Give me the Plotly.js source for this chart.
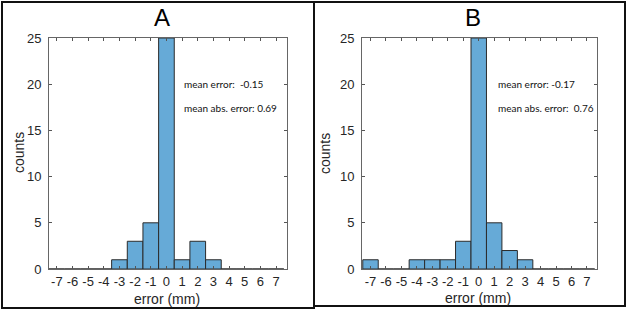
<!DOCTYPE html>
<html>
<head>
<meta charset="utf-8">
<script src="https://cdn.plot.ly/plotly-3.0.1.min.js"></script>
<style>html,body{margin:0;padding:0;background:#fff;}#chart{width:629px;height:311px;}</style>
</head>
<body>
<div id="chart"></div>
<script>
// bin centres (mm)
var binCenters = [-7, -6, -5, -4, -3, -2, -1, 0, 1, 2, 3, 4, 5, 6, 7];
// counts per bin, panel A
var countsA = [0, 0, 0, 0, 1, 3, 5, 25, 1, 3, 1, 0, 0, 0, 0];
// counts per bin, panel B
var countsB = [1, 0, 0, 1, 1, 1, 3, 25, 5, 2, 1, 0, 0, 0, 0];
var panelTitles = ["A", "B"];
var statsA = ["mean error:\u00a0\u00a0-0.15", "mean abs. error: 0.69"];
var statsB = ["mean error: -0.17", "mean abs. error:\u00a0\u00a00.76"];
var xTicks = [-7, -6, -5, -4, -3, -2, -1, 0, 1, 2, 3, 4, 5, 6, 7];
var yTicks = [0, 5, 10, 15, 20, 25];

var barColor = "rgb(102,170,215)";
function barTrace(y, xa, ya) {
  return {
    type: "bar", x: binCenters, y: y, xaxis: xa, yaxis: ya, width: 1,
    marker: {color: barColor, line: {color: "#2b2b2b", width: 1}},
    hoverinfo: "skip", showlegend: false
  };
}

var W = 629, H = 311;
function px(x) { return x / W; }
function py(y) { return 1 - y / H; }

var tickFont = {family: "Arial, Liberation Sans, sans-serif", size: 13, color: "#262626"};
function xAxis(domain, range, anchor) {
  return {
    domain: domain, range: range, anchor: anchor,
    tickvals: xTicks, ticktext: xTicks.map(String),
    ticks: "inside", ticklen: 3, tickcolor: "#555", tickwidth: 1,
    showline: true, linecolor: "#666", linewidth: 1, mirror: "ticks",
    showgrid: false, zeroline: false, tickfont: tickFont, fixedrange: true,
    ticklabelstandoff: 0
  };
}
function yAxis(domain, anchor) {
  return {
    domain: domain, range: [0, 25], anchor: anchor,
    tickvals: yTicks, ticktext: yTicks.map(String),
    ticks: "inside", ticklen: 3, tickcolor: "#555", tickwidth: 1,
    showline: true, linecolor: "#666", linewidth: 1, mirror: "ticks",
    showgrid: false, zeroline: false, tickfont: tickFont, fixedrange: true,
    ticklabelstandoff: 4
  };
}

var yDom = [py(269), py(38)];
var labelFont = {family: "Arial, Liberation Sans, sans-serif", size: 14, color: "#262626"};
var titleFont = {family: "Arial, Liberation Sans, sans-serif", size: 24, color: "#000"};
var statFont = {family: "Lato, Carlito, sans-serif", size: 10, color: "#111"};

var annotations = [
  {text: panelTitles[0], xref: "paper", yref: "paper", x: px(162), y: py(17), showarrow: false, font: titleFont, xanchor: "center", yanchor: "middle"},
  {text: panelTitles[1], xref: "paper", yref: "paper", x: px(473), y: py(17), showarrow: false, font: titleFont, xanchor: "center", yanchor: "middle"},
  {text: "counts", xref: "paper", yref: "paper", x: px(19), y: py(153), showarrow: false, font: labelFont, textangle: -90, xanchor: "center", yanchor: "middle"},
  {text: "counts", xref: "paper", yref: "paper", x: px(325), y: py(154), showarrow: false, font: labelFont, textangle: -90, xanchor: "center", yanchor: "middle"},
  {text: "error (mm)", xref: "paper", yref: "paper", x: px(167), y: py(299), showarrow: false, font: labelFont, xanchor: "center", yanchor: "middle"},
  {text: "error (mm)", xref: "paper", yref: "paper", x: px(478), y: py(298), showarrow: false, font: labelFont, xanchor: "center", yanchor: "middle"},
  {text: statsA[0], xref: "x", yref: "y", x: 0.99, y: 20, showarrow: false, font: statFont, xanchor: "left", yanchor: "middle"},
  {text: statsA[1], xref: "x", yref: "y", x: 0.99, y: 17.4, showarrow: false, font: statFont, xanchor: "left", yanchor: "middle"},
  {text: statsB[0], xref: "x2", yref: "y2", x: 1.12, y: 20, showarrow: false, font: statFont, xanchor: "left", yanchor: "middle"},
  {text: statsB[1], xref: "x2", yref: "y2", x: 1.12, y: 17.4, showarrow: false, font: statFont, xanchor: "left", yanchor: "middle"}
];

var shapes = [
  {type: "rect", xref: "paper", yref: "paper", x0: px(2), x1: px(314), y0: py(308), y1: py(2), line: {color: "#111", width: 2}},
  {type: "rect", xref: "paper", yref: "paper", x0: px(314), x1: px(625), y0: py(306), y1: py(2), line: {color: "#111", width: 2}}
];

var layout = {
  width: W, height: H,
  margin: {l: 0, r: 0, t: 0, b: 0},
  paper_bgcolor: "#fff", plot_bgcolor: "#fff",
  bargap: 0,
  xaxis: xAxis([px(49), px(287)], [-7.5, 7.7], "y"),
  yaxis: yAxis(yDom, "x"),
  xaxis2: xAxis([px(362), px(597)], [-7.55, 7.65], "y2"),
  yaxis2: yAxis(yDom, "x2"),
  annotations: annotations,
  shapes: shapes
};

Plotly.newPlot("chart", [barTrace(countsA, "x", "y"), barTrace(countsB, "x2", "y2")], layout, {staticPlot: true, displayModeBar: false});
</script>
</body>
</html>
